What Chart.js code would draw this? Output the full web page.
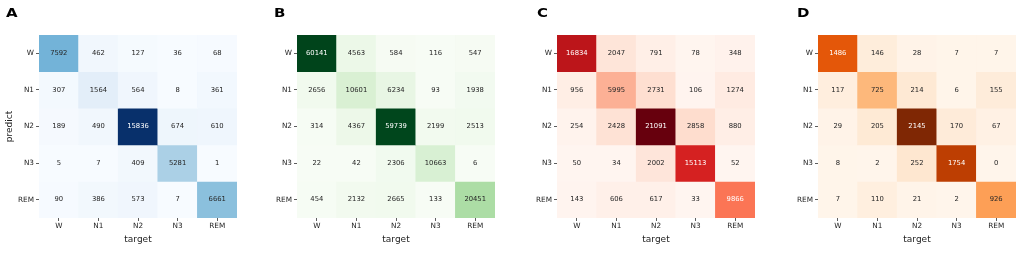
<!DOCTYPE html>
<html>
<head>
<meta charset="utf-8">
<script src="https://cdn.jsdelivr.net/npm/chart.js@4.4.1/dist/chart.umd.min.js"></script>
<style>
  body { margin: 0; background: #fff; width: 1021px; height: 253px; position: relative; overflow: hidden; }
  .panel { position: absolute; top: 0; height: 253px; }
  .letter { position: absolute; top: 6px; font: bold 13px "DejaVu Sans", sans-serif; line-height: 13px; color: #000; transform: scaleX(1.15); transform-origin: left top; }
</style>
</head>
<body>
<div class="panel" style="left:0;width:255px"><canvas id="chartA" width="255" height="253"></canvas></div>
<div class="panel" style="left:255px;width:255px"><canvas id="chartB" width="255" height="253"></canvas></div>
<div class="panel" style="left:510px;width:255px"><canvas id="chartC" width="255" height="253"></canvas></div>
<div class="panel" style="left:765px;width:256px"><canvas id="chartD" width="256" height="253"></canvas></div>
<div class="letter" style="left:6px">A</div>
<div class="letter" style="left:274px">B</div>
<div class="letter" style="left:537px">C</div>
<div class="letter" style="left:797px">D</div>

<script>
// sleep stages (rows = predict, columns = target)
const stages = ['W', 'N1', 'N2', 'N3', 'REM'];

const matrixA = [
    [7592, 462, 127, 36, 68],
    [307, 1564, 564, 8, 361],
    [189, 490, 15836, 674, 610],
    [5, 7, 409, 5281, 1],
    [90, 386, 573, 7, 6661]
];

const matrixB = [
    [60141, 4563, 584, 116, 547],
    [2656, 10601, 6234, 93, 1938],
    [314, 4367, 59739, 2199, 2513],
    [22, 42, 2306, 10663, 6],
    [454, 2132, 2665, 133, 20451]
];

const matrixC = [
    [16834, 2047, 791, 78, 348],
    [956, 5995, 2731, 106, 1274],
    [254, 2428, 21091, 2858, 880],
    [50, 34, 2002, 15113, 52],
    [143, 606, 617, 33, 9866]
];

const matrixD = [
    [1486, 146, 28, 7, 7],
    [117, 725, 214, 6, 155],
    [29, 205, 2145, 170, 67],
    [8, 2, 252, 1754, 0],
    [7, 110, 21, 2, 926]
];

// colorbrewer sequential ramps (same as matplotlib Blues/Greens/Reds/Oranges)
const blues = ['#f7fbff', '#deebf7', '#c6dbef', '#9ecae1', '#6baed6', '#4292c6', '#2171b5', '#08519c', '#08306b'];
const greens = ['#f7fcf5', '#e5f5e0', '#c7e9c0', '#a1d99b', '#74c476', '#41ab5d', '#238b45', '#006d2c', '#00441b'];
const reds = ['#fff5f0', '#fee0d2', '#fcbba1', '#fc9272', '#fb6a4a', '#ef3b2c', '#cb181d', '#a50f15', '#67000d'];
const oranges = ['#fff5eb', '#fee6ce', '#fdd0a2', '#fdae6b', '#fd8d3c', '#f16913', '#d94801', '#a63603', '#7f2704'];

const hexToRgb = h => [1, 3, 5].map(i => parseInt(h.substr(i, 2), 16));

function sampleRamp(ramp, t) {
    t = Math.min(1, Math.max(0, t));
    const pos = t * (ramp.length - 1);
    const i = Math.min(ramp.length - 2, Math.floor(pos));
    const f = pos - i;
    const a = hexToRgb(ramp[i]), b = hexToRgb(ramp[i + 1]);
    return a.map((v, k) => v + (b[k] - v) * f);
}

function luminance(rgb) {
    const lin = rgb.map(v => {
        v = v / 255;
        return v <= 0.03928 ? v / 12.92 : Math.pow((v + 0.055) / 1.055, 2.4);
    });
    return 0.2126 * lin[0] + 0.7152 * lin[1] + 0.0722 * lin[2];
}

// writes the count in the middle of each cell
const cellText = {
    id: 'cellText',
    afterDatasetsDraw(chart) {
        const ctx = chart.ctx;
        ctx.save();
        ctx.font = '6.8px "DejaVu Sans"';
        ctx.textAlign = 'center';
        ctx.textBaseline = 'middle';
        chart.data.datasets.forEach((ds, r) => {
            chart.getDatasetMeta(r).data.forEach((bar, c) => {
                ctx.fillStyle = ds.textColors[c];
                ctx.fillText(String(ds.counts[c]), bar.x, (bar.y + bar.base) / 2);
            });
        });
        ctx.restore();
    }
};

const tickFont = { family: 'DejaVu Sans', size: 7.3 };
const titleFont = { family: 'DejaVu Sans', size: 9 };

function makeHeatmap(canvasId, matrix, ramp, axisWidth, rightPad, showPredict) {
    const all = matrix.flat();
    const vmin = Math.min(...all), vmax = Math.max(...all);

    const datasets = matrix.map((row, r) => {
        const rgbs = row.map(v => sampleRamp(ramp, (v - vmin) / (vmax - vmin)));
        return {
            label: stages[r],
            data: row.map(() => [r, r + 1]),
            counts: row,
            backgroundColor: rgbs.map(c => `rgb(${c.map(Math.round).join(',')})`),
            textColors: rgbs.map(c => luminance(c) < 0.40 ? '#ffffff' : '#262626'),
            borderWidth: 0,
            grouped: false,
            barPercentage: 1,
            categoryPercentage: 1
        };
    });

    const ctx = document.getElementById(canvasId).getContext('2d');
    return new Chart(ctx, {
        type: 'bar',
        data: { labels: stages, datasets: datasets },
        options: {
            responsive: false,
            devicePixelRatio: 1,
            animation: false,
            layout: { padding: { top: 35, right: rightPad, left: 0, bottom: 0 } },
            plugins: { legend: { display: false }, tooltip: { enabled: false } },
            scales: {
                x: {
                    type: 'category',
                    offset: true,
                    grid: { offset: false, drawOnChartArea: false, tickLength: 3, tickColor: '#333', tickWidth: 0.8 },
                    border: { display: false },
                    ticks: { font: tickFont, color: '#222', padding: 1, maxRotation: 0, autoSkip: false },
                    title: { display: true, text: 'target', font: titleFont, color: '#222', padding: { top: 0, bottom: 7.5 } },
                    afterFit: s => { s.height = 35; }
                },
                y: {
                    type: 'linear',
                    min: 0,
                    max: 5,
                    reverse: true,
                    afterBuildTicks: s => { s.ticks = stages.map((_, i) => ({ value: i + 0.5 })); },
                    grid: { drawOnChartArea: false, tickLength: 3, tickColor: '#333', tickWidth: 0.8 },
                    border: { display: false },
                    ticks: { font: tickFont, color: '#222', padding: 2, autoSkip: false, callback: (v, i) => stages[i] },
                    title: { display: showPredict, text: 'predict', font: titleFont, color: '#222', padding: { top: 4, bottom: 0 } },
                    afterFit: s => { s.width = axisWidth; }
                }
            }
        },
        plugins: [cellText]
    });
}

document.addEventListener('DOMContentLoaded', function() {
    makeHeatmap('chartA', matrixA, blues, 39, 18, true);
    makeHeatmap('chartB', matrixB, greens, 42, 15, false);
    makeHeatmap('chartC', matrixC, reds, 47, 10, false);
    makeHeatmap('chartD', matrixD, oranges, 53, 5, false);
});
</script>
</body>
</html>
